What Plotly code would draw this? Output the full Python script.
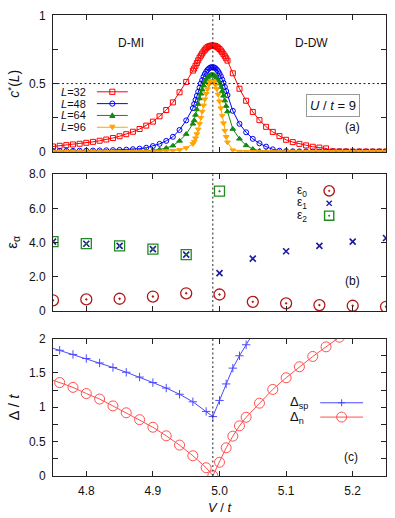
import numpy as np
import plotly.graph_objects as go

# ---------------- data ----------------
# panel (a): c*(L) vs V/t
V_a = list(np.round(np.concatenate([np.arange(4.75, 4.9601, 0.01),
                                     np.arange(4.962, 5.0121, 0.002),
                                     np.arange(5.02, 5.2501, 0.01)]), 4))
c_L32 = [.039, .044, .049, .054, .059, .066, .073, .081, .090, .101, .114, .129, .147, .167, .192, .221, .260, .306, .362, .436, .512, .595,
         .61, .63, .65, .67, .69, .705, .72, .735, .748, .758, .766, .772, .776, .778, .778, .777, .774, .769, .762, .753, .742, .729, .715, .70, .685, .668,
         .575, .462, .374, .292, .232, .183, .146, .115, .088, .071, .058, .047, .037, .031, .025, .004, .003, .003, .002, .002, .002, .002, .002, .002]
c_L48 = [.006, .006, .007, .007, .008, .008, .009, .010, .011, .012, .014, .016, .019, .023, .030, .042, .058, .080, .110, .160, .230, .320,
         .35, .38, .41, .44, .47, .50, .525, .55, .57, .587, .60, .61, .617, .62, .62, .618, .612, .602, .59, .573, .553, .53, .505, .475, .445, .415,
         .300, .205, .143, .095, .062, .038, .018, .008, .005, .004, .003, .003, .002, .002, .002, .002, .002, .002, .002, .002, .002, .002, .002, .002]
c_L64 = [.001, .001, .001, .001, .001, .001, .001, .002, .002, .002, .003, .003, .004, .005, .007, .010, .017, .028, .045, .080, .130, .205,
         .23, .27, .31, .35, .39, .425, .455, .485, .51, .53, .545, .556, .562, .565, .565, .561, .553, .54, .522, .50, .473, .443, .41, .375, .335, .295,
         .167, .095, .047, .020, .008, .004, .002, .002, .002, .002, .002, .002, .002, .002, .002, .002, .002, .002, .002, .002, .002, .002, .002, .002]
c_L96 = [0, 0, 0, 0, 0, 0, 0, 0, 0, 0, 0, .001, .001, .001, .002, .002, .003, .005, .008, .014, .028, .058,
         .075, .10, .13, .165, .205, .25, .295, .34, .385, .425, .46, .49, .51, .52, .52, .51, .49, .46, .42, .37, .32, .265, .21, .155, .11, .07,
         .012, .002, .001, .001, .001, .001, .001, .001, .001, .001, .001, .001, .001, .001, .001, .001, .001, .001, .001, .001, .001, .001, .001, .001]
L_labels = ["32", "48", "64", "96"]

# panel (b): entanglement spectrum levels
V_b = [4.75, 4.80, 4.85, 4.90, 4.95, 5.00, 5.05, 5.10, 5.15, 5.20, 5.25]
eps0 = [0.63, 0.68, 0.72, 0.85, 1.04, 0.97, 0.54, 0.45, 0.35, 0.31, 0.25]
eps1 = [4.06, 3.94, 3.81, 3.62, 3.30, 2.22, 3.07, 3.50, 3.81, 4.06, 4.27]
eps2 = [4.06, 3.94, 3.81, 3.62, 3.30, 7.01, None, None, None, None, None]

# panel (c): gaps
V_sp = [4.74, 4.76, 4.78, 4.80, 4.82, 4.84, 4.86, 4.88, 4.90, 4.92, 4.94, 4.96, 4.98, 4.99,
        5.00, 5.01, 5.02, 5.03, 5.04, 5.05]
gap_sp = [1.89, 1.83, 1.77, 1.71, 1.645, 1.58, 1.51, 1.44, 1.36, 1.28, 1.19, 1.08, 0.94, 0.865,
          1.10, 1.34, 1.57, 1.75, 1.91, 2.07]
V_n = [4.74, 4.76, 4.78, 4.80, 4.82, 4.84, 4.86, 4.88, 4.90, 4.92, 4.94, 4.96, 4.98, 4.99,
       5.00, 5.01, 5.02, 5.03, 5.04, 5.06, 5.08, 5.10, 5.12, 5.14, 5.16, 5.18]
gap_n = [1.43, 1.36, 1.29, 1.20, 1.12, 1.02, 0.92, 0.82, 0.71, 0.585, 0.45, 0.295, 0.12, 0.005,
         0.20, 0.41, 0.58, 0.73, 0.855, 1.06, 1.26, 1.43, 1.59, 1.74, 1.88, 2.02]

V_c = 4.99  # transition point
x_ticks = [4.8, 4.9, 5.0, 5.1, 5.2]
x_ticktext = ["4.8", "4.9", "5.0", "5.1", "5.2"]

# ---------------- figure ----------------
FONT = "Liberation Sans, Arial, sans-serif"
W, H = 395, 518
ML, MR, MT, MB = 53, 8, 12, 42
PW, PH = W - ML - MR, H - MT - MB


def px(x):
    return (x - ML) / PW


def py(y):
    return (H - MB - y) / PH


fig = go.Figure()

colors_a = ["#ff0000", "#0000ff", "#138a13", "#ffa500"]
symbols_a = ["square-open", "circle-open", "triangle-up", "triangle-down"]
for c, col, sym in zip([c_L32, c_L48, c_L64, c_L96], colors_a, symbols_a):
    fig.add_trace(go.Scatter(x=V_a, y=c, mode="lines+markers", xaxis="x", yaxis="y",
                             line=dict(color=col, width=1),
                             marker=dict(symbol=sym, size=5, color=col, line=dict(color=col, width=1)),
                             showlegend=False))

fig.add_trace(go.Scatter(x=V_b, y=eps0, mode="markers", xaxis="x2", yaxis="y2",
                         marker=dict(symbol="circle-open-dot", size=11, color="#b01818", line=dict(width=1.3)),
                         showlegend=False))
fig.add_trace(go.Scatter(x=V_b, y=eps1, mode="markers", xaxis="x2", yaxis="y2",
                         marker=dict(symbol="x-thin", size=6, color="#1c1c9c", line=dict(width=1.6, color="#1c1c9c")),
                         showlegend=False))
fig.add_trace(go.Scatter(x=V_b, y=eps2, mode="markers", xaxis="x2", yaxis="y2",
                         marker=dict(symbol="square-open-dot", size=10, color="#1f8a1f", line=dict(width=1.3)),
                         showlegend=False))

fig.add_trace(go.Scatter(x=V_sp, y=gap_sp, mode="lines+markers", xaxis="x3", yaxis="y3",
                         line=dict(color="#4a4aff", width=1),
                         marker=dict(symbol="cross-thin", size=6, color="#4a4aff", line=dict(width=1, color="#4a4aff")),
                         showlegend=False))
fig.add_trace(go.Scatter(x=V_n, y=gap_n, mode="lines+markers", xaxis="x3", yaxis="y3",
                         line=dict(color="#ff5050", width=1),
                         marker=dict(symbol="circle-open", size=10, color="#ff5050", line=dict(width=1, color="#ff5050")),
                         showlegend=False))

axis_common = dict(showline=True, linecolor="#222", linewidth=1, mirror="ticks",
                   ticks="inside", ticklen=5, tickcolor="#222", showgrid=False, zeroline=False,
                   tickfont=dict(family=FONT, size=12, color="#111"))
xcommon = dict(axis_common, range=[4.75, 5.25], tickvals=x_ticks, ticktext=x_ticktext)

dom_a = [py(149.7), py(12.3)]
dom_b = [py(310), py(172.3)]
dom_c = [0, py(337.7)]

fig.update_layout(
    width=W, height=H, margin=dict(l=ML, r=MR, t=MT, b=MB),
    paper_bgcolor="white", plot_bgcolor="white",
    font=dict(family=FONT, size=12, color="#111"),
    xaxis=dict(xcommon, anchor="y", showticklabels=False),
    yaxis=dict(axis_common, domain=dom_a, range=[0, 1], tickvals=[0, 0.5, 1], ticktext=["0", "0.5", "1"],
               minor=dict(dtick=0.25, ticks="inside", ticklen=5, tickcolor="#222"), ticklabelstandoff=4),
    xaxis2=dict(xcommon, anchor="y2", matches="x", showticklabels=False),
    yaxis2=dict(axis_common, domain=dom_b, range=[0, 8], tickvals=[0, 2, 4, 6, 8],
                ticktext=["0", "2.0", "4.0", "6.0", "8.0"], ticklabelstandoff=4),
    xaxis3=dict(xcommon, anchor="y3", matches="x", ticklabelstandoff=4),
    yaxis3=dict(axis_common, domain=dom_c, range=[0, 2], tickvals=[0, 0.5, 1, 1.5, 2],
                ticktext=["0", "0.5", "1", "1.5", "2"],
                minor=dict(dtick=0.25, ticks="inside", ticklen=5, tickcolor="#222"), ticklabelstandoff=4),
)

shapes = []
# vertical dotted lines at transition, horizontal at 0.5
for xr, yr in [("x", "y"), ("x2", "y2"), ("x3", "y3")]:
    shapes.append(dict(type="line", xref=xr, yref=yr + " domain", x0=V_c, x1=V_c, y0=0, y1=1,
                       line=dict(color="#222", width=1, dash="2px,2.5px")))
shapes.append(dict(type="line", xref="x domain", yref="y", x0=0, x1=1, y0=0.5, y1=0.5,
                   line=dict(color="#222", width=1, dash="2px,2.5px")))

annotations = []


def note(x, y, text, size=12, xanchor="center", **kw):
    annotations.append(dict(xref="paper", yref="paper", x=px(x), y=py(y), text=text, showarrow=False,
                            xanchor=xanchor, yanchor="middle", font=dict(family=FONT, size=size, color="#111"), **kw))


def marker_shape(kind, x, y, col, s=3.0, lw=1.0):
    base = dict(xref="paper", yref="paper", xsizemode="pixel", ysizemode="pixel",
                xanchor=px(x), yanchor=py(y), line=dict(color=col, width=lw))
    if kind == "square":
        shapes.append(dict(base, type="rect", x0=-s, x1=s, y0=-s, y1=s))
    elif kind == "circle":
        shapes.append(dict(base, type="circle", x0=-s, x1=s, y0=-s, y1=s))
    elif kind == "tri-up":
        shapes.append(dict(base, type="path", path=f"M{-s},{-s*0.8} L{s},{-s*0.8} L0,{s} Z", fillcolor=col))
    elif kind == "tri-down":
        shapes.append(dict(base, type="path", path=f"M{-s},{s*0.8} L{s},{s*0.8} L0,{-s} Z", fillcolor=col))
    elif kind == "x":
        shapes.append(dict(base, type="path", path=f"M{-s},{-s} L{s},{s} M{-s},{s} L{s},{-s}"))
    elif kind == "plus":
        shapes.append(dict(base, type="path", path=f"M{-s},0 L{s},0 M0,{-s} L0,{s}"))
    elif kind == "dot":
        shapes.append(dict(base, type="circle", x0=-0.6, x1=0.6, y0=-0.6, y1=0.6, fillcolor=col))


def line_sample(x0, x1, y, col, lw=1):
    shapes.append(dict(type="line", xref="paper", yref="paper", x0=px(x0), x1=px(x1), y0=py(y), y1=py(y),
                       line=dict(color=col, width=lw)))


# legend (a)
kinds_a = ["square", "circle", "tri-up", "tri-down"]
for i, (lab, col, k) in enumerate(zip(L_labels, colors_a, kinds_a)):
    yy = 89.3 + i * 11.9
    note(88, yy, f"<i>L</i>={lab}", size=11, xanchor="right")
    line_sample(97, 128, yy, col)
    marker_shape(k, 112.5, yy, col, s=2.6)

# legend (b)
leg_b = [("ε<sub>0</sub>", "circle", "#b01818", 5.2), ("ε<sub>1</sub>", "x", "#1c1c9c", 2.6),
         ("ε<sub>2</sub>", "square", "#1f8a1f", 4.6)]
for i, (lab, k, col, s) in enumerate(leg_b):
    yy = 189 + i * 12.5
    note(296, yy, lab, size=12, xanchor="left")
    marker_shape(k, 330, yy, col, s=s, lw=1.4)
    if k != "x":
        marker_shape("dot", 330, yy, col)

# legend (c)
for i, (lab, col, k, s) in enumerate([("Δ<sub>sp</sub>", "#4a4aff", "plus", 3.5),
                                       ("Δ<sub>n</sub>", "#ff5050", "circle", 5)]):
    yy = 402.3 + i * 14.4
    note(289, yy, lab, size=13, xanchor="left")
    line_sample(321, 364, yy, col)
    marker_shape(k, 342.5, yy, col, s=s)

# panel texts
note(131, 40, "D-MI", size=12)
note(312, 40, "D-DW", size=12)
note(333.5, 103, "<i>U</i> / <i>t</i> = 9", size=13, bordercolor="#999", borderwidth=1, borderpad=3,
     bgcolor="white")
note(353, 125, "(a)", size=12)
note(353, 280, "(b)", size=12)
note(352, 457, "(c)", size=12)

# axis titles
note(13, 81, "<i>c</i><sup>*</sup>(<i>L</i>)", size=14, textangle=-90)
note(12, 241, "ε<sub>α</sub>", size=15, textangle=-90)
note(13, 407, "Δ / <i>t</i>", size=15, textangle=-90)
note(221, 508, "<i>V</i> / <i>t</i>", size=13)

fig.update_layout(shapes=shapes, annotations=annotations)
fig.write_html("out.html", config={"displayModeBar": False},
               post_script="document.body.style.margin='0';document.body.style.padding='0';"
                           "document.documentElement.style.overflow='hidden';")
